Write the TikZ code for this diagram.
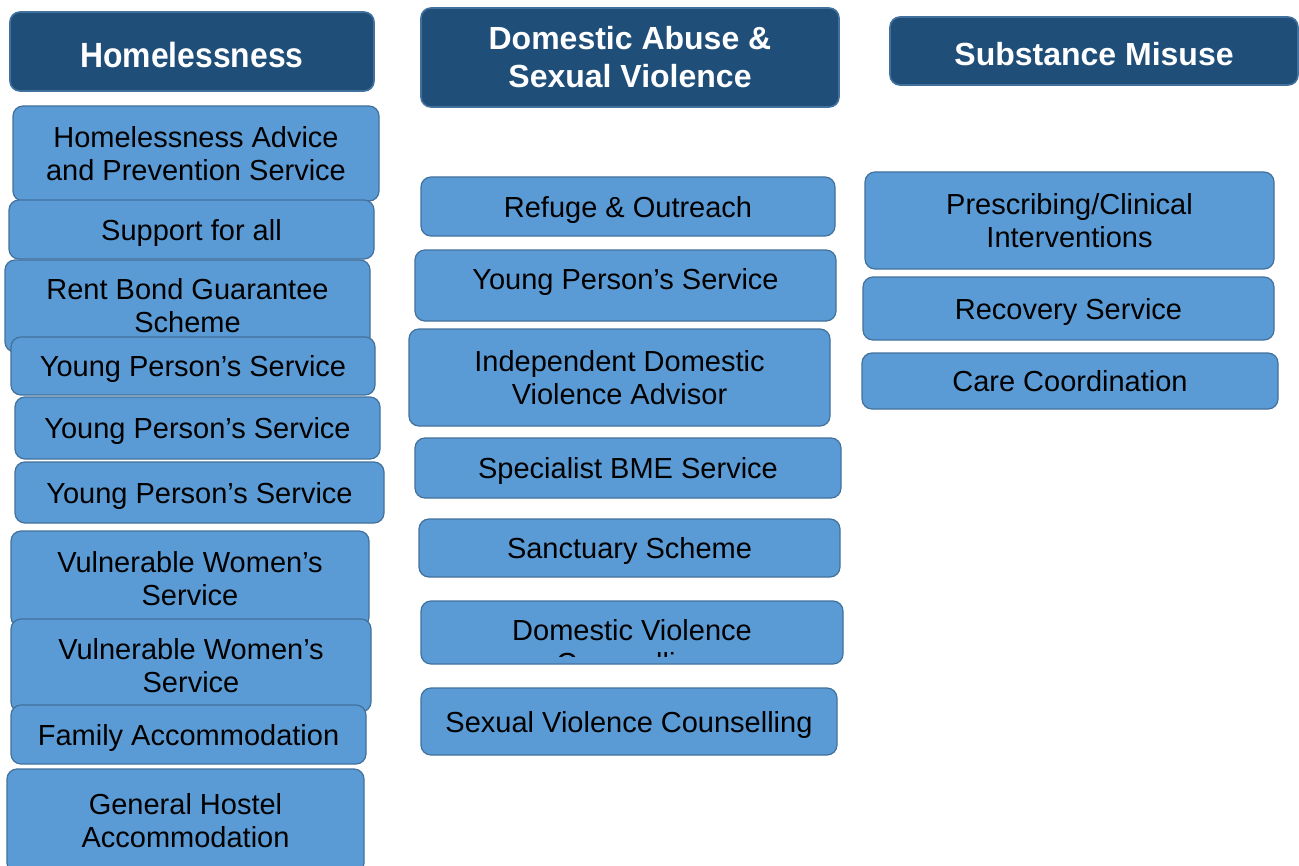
\documentclass[tikz,border=0pt]{standalone}
\usepackage{graphicx}
\usepackage{fontspec}
\setmainfont{Liberation Sans}
\definecolor{headblue}{HTML}{1F4E79}
\definecolor{boxblue}{HTML}{5B9BD5}
\definecolor{edgeblue}{HTML}{41719C}

\begin{document}
\begin{tikzpicture}[
    x=0.5pt, y=-0.5pt, %% one unit is one pixel of the layout
    header/.style={
        rectangle,
        rounded corners=5pt,
        draw=edgeblue,
        line width=0.8pt,
        fill=headblue,
        text=white,
        align=center,
        inner sep=0pt,
        font=\fontsize{16}{19}\selectfont\bfseries
    },
    service/.style={
        rectangle,
        rounded corners=5pt,
        draw=edgeblue,
        line width=0.6pt,
        fill=boxblue,
        text=black,
        align=center,
        inner sep=0pt,
        font=\fontsize{14.5}{16.5}\selectfont
    },
    oneline/.style={
        text depth=0pt
    },
    boxtext/.style={
        align=center,
        inner sep=0pt,
        font=\fontsize{14.5}{16.5}\selectfont
    }
]

\clip (0,0) rectangle (1299,866);
\fill[white] (0,0) rectangle (1299,866);

%% Column headers
\node[header, minimum width=182pt, minimum height=39.5pt, text height=16pt] (homeless) at (192,51.5) {\fontsize{17.5}{21}\selectfont\scalebox{0.91}[1]{Homelessness}};
\node[header, minimum width=209pt, minimum height=49.5pt] (abuse) at (630,57.5) {Domestic Abuse \&\\Sexual Violence};
\node[header, minimum width=204pt, minimum height=34pt, text height=14.5pt] (substance) at (1094,51) {Substance Misuse};

%% Homelessness services
\node[service, minimum width=183pt, minimum height=47.5pt] (advice) at (196,153.5) {Homelessness Advice\\and Prevention Service};
\node[service, oneline, minimum width=182.5pt, minimum height=29.5pt] (support_all) at (191.5,229.5) {Support for all};
\node[service, minimum width=182.5pt, minimum height=46pt] (rent_bond) at (187.5,306) {Rent Bond Guarantee\\Scheme};
\node[service, oneline, minimum width=182pt, minimum height=29pt] (young_a) at (193,366) {Young Person’s Service};
\node[service, oneline, minimum width=182.5pt, minimum height=31pt] (young_b) at (197.5,428) {Young Person’s Service};
\node[service, oneline, minimum width=184.5pt, minimum height=30.5pt] (young_c) at (199.5,492.5) {Young Person’s Service};
\node[service, minimum width=179pt, minimum height=48pt] (women_a) at (190,579) {Vulnerable Women’s\\Service};
\node[service, minimum width=180pt, minimum height=46.5pt] (women_b) at (191,665.5) {Vulnerable Women’s\\Service};
\node[service, oneline, minimum width=177.5pt, minimum height=29.5pt] (family) at (188.5,734.5) {Family Accommodation};
\node[service, minimum width=178.5pt, minimum height=52pt] (hostel) at (185.5,821) {General Hostel\\Accommodation};

%% Domestic abuse services
\node[service, oneline, minimum width=207pt, minimum height=29.5pt] (refuge) at (628,206.5) {Refuge \& Outreach};
\node[service, minimum width=210.5pt, minimum height=35.5pt, text depth=7pt] (young_da) at (625.5,285.5) {Young Person’s Service};
\node[service, minimum width=210.5pt, minimum height=48.5pt] (idva) at (619.5,377.5) {Independent Domestic\\Violence Advisor};
\node[service, oneline, minimum width=213pt, minimum height=30pt] (bme) at (628,468) {Specialist BME Service};
\node[service, oneline, minimum width=210.5pt, minimum height=29pt] (sanctuary) at (629.5,548) {Sanctuary Scheme};
\node[service, minimum width=211pt, minimum height=31.5pt] (dv_couns) at (632,632.5) {};
\begin{scope}
    \clip (421,601) rectangle (843,656);
    \node[boxtext] (dv_text) at (632,649) {Domestic Violence\\Counselling};
\end{scope}
\node[service, oneline, minimum width=208pt, minimum height=33.5pt] (sv_couns) at (629,721.5) {Sexual Violence Counselling};

%% Substance misuse services
\node[service, minimum width=204.5pt, minimum height=48.5pt] (prescribing) at (1069.5,220.5) {Prescribing/Clinical\\Interventions};
\node[service, oneline, minimum width=205.5pt, minimum height=31.5pt] (recovery) at (1068.5,308.5) {Recovery Service};
\node[service, oneline, minimum width=208pt, minimum height=28pt] (care) at (1070,381) {Care Coordination};

\end{tikzpicture}
\end{document}
